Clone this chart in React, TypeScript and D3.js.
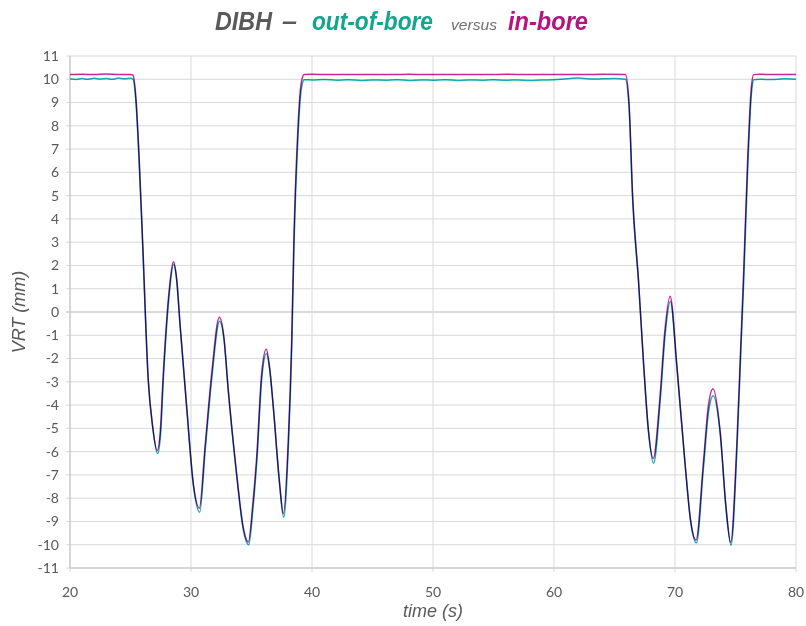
import React from 'react';
import * as d3 from 'd3';

// in-bore trace (magenta), [time s, VRT mm]
const inBore: [number, number][] = [
  [20, 10.2], [21, 10.22], [22, 10.2], [23, 10.23], [24, 10.2], [25, 10.21], [25.2, 10.18],
  [25.45, 9.2], [25.7, 6.8], [26.0, 3.1], [26.47, -2.9], [26.83, -4.93], [27.2, -5.95],
  [27.45, -5.2], [27.71, -2.64], [28.2, 0.95], [28.54, 2.16], [28.8, 1.5], [29.09, -0.49],
  [29.64, -4.07], [30.19, -7.37], [30.69, -8.43], [31.16, -5.79], [31.71, -2.64], [32.34, -0.23],
  [32.7, -1.0], [33.08, -3.35], [33.77, -6.94], [34.3, -9.2], [34.74, -9.88], [35.1, -8.3],
  [35.43, -6.22], [35.84, -2.64], [36.22, -1.6], [36.5, -2.4], [36.8, -4.07], [37.3, -7.23],
  [37.63, -8.66], [38.04, -5.5], [38.32, -1.2], [38.5, 3.1], [38.8, 7.5], [39.1, 9.8], [39.35, 10.2],
  [40, 10.22], [42, 10.2], [44, 10.21], [46, 10.2], [48, 10.22], [50, 10.2], [52, 10.21],
  [54, 10.2], [56, 10.22], [58, 10.2], [60, 10.21], [62, 10.2], [64, 10.22], [65.9, 10.2],
  [66.2, 9.0], [66.5, 5.0], [66.98, 1.38], [67.4, -2.2], [67.8, -5.07], [68.2, -6.3],
  [68.76, -3.64], [69.17, -0.77], [69.6, 0.68], [70.14, -2.2], [70.83, -6.51], [71.3, -9.0],
  [71.74, -9.8], [72.34, -6.51], [72.75, -4.07], [73.14, -3.3], [73.72, -5.07], [74.21, -8.37],
  [74.6, -9.9], [75.1, -5.79], [75.43, -1.49], [75.65, 1.38], [76.0, 6.5], [76.3, 9.6], [76.5, 10.2],
  [77, 10.22], [78, 10.2], [79, 10.21], [80, 10.2],
];

// out-of-bore trace (teal)
const outOfBore: [number, number][] = [
  [20, 10.02], [20.5, 9.99], [21, 10.03], [21.5, 10.0], [22, 10.04], [22.5, 10.01], [23, 10.03],
  [23.5, 10.0], [24, 10.05], [24.5, 10.02], [25, 10.04], [25.2, 10.0],
  [25.45, 9.0], [25.7, 6.6], [26.0, 2.9], [26.47, -3.0], [26.85, -5.0], [27.23, -6.08],
  [27.48, -5.3], [27.73, -2.75], [28.22, 0.85], [28.56, 2.05], [28.82, 1.35], [29.1, -0.6],
  [29.66, -4.2], [30.21, -7.5], [30.72, -8.6], [31.18, -5.9], [31.73, -2.8], [32.36, -0.4],
  [32.72, -1.15], [33.1, -3.5], [33.79, -7.1], [34.32, -9.35], [34.77, -10.0], [35.12, -8.45],
  [35.45, -6.35], [35.86, -2.8], [36.24, -1.78], [36.52, -2.55], [36.82, -4.2], [37.32, -7.4],
  [37.66, -8.82], [38.06, -5.6], [38.34, -1.3], [38.52, 3.0], [38.82, 7.3], [39.12, 9.6], [39.37, 9.98],
  [40, 9.97], [41, 9.99], [42, 9.96], [43, 9.98], [44, 9.95], [45, 9.97], [46, 9.96], [47, 9.98],
  [48, 9.95], [49, 9.97], [50, 9.96], [51, 9.98], [52, 9.95], [53, 9.97], [54, 9.96], [55, 9.98],
  [56, 9.96], [57, 9.97], [58, 9.95], [59, 9.97], [60, 9.98], [61, 10.02], [62, 10.05], [63, 10.01],
  [64, 10.02], [65, 10.03], [65.9, 10.0],
  [66.2, 8.8], [66.5, 4.8], [67.0, 1.2], [67.42, -2.35], [67.82, -5.2], [68.23, -6.5],
  [68.78, -3.8], [69.19, -0.95], [69.62, 0.45], [70.16, -2.4], [70.85, -6.65], [71.32, -9.1],
  [71.77, -9.92], [72.36, -6.65], [72.77, -4.3], [73.16, -3.6], [73.74, -5.25], [74.23, -8.5],
  [74.63, -10.02], [75.12, -5.9], [75.45, -1.6], [75.67, 1.2], [76.02, 6.3], [76.32, 9.4], [76.52, 9.98],
  [77, 10.0], [78, 9.99], [79, 10.02], [80, 10.0],
];

const xTicks = [20, 30, 40, 50, 60, 70, 80];
const yTicks = d3.range(-11, 12);

const W = 806;
const H = 626;
const m = { left: 70, right: 10, top: 56, bottom: 58 };

export default function App() {
  const x = d3.scaleLinear().domain([20, 80]).range([m.left, W - m.right]);
  const y = d3.scaleLinear().domain([-11, 11]).range([H - m.bottom, m.top]);
  const line = d3.line<[number, number]>()
    .x(d => x(d[0]))
    .y(d => y(d[1]))
    .curve(d3.curveMonotoneX);

  const narrow = "'Liberation Sans Narrow', 'Liberation Sans', Arial, sans-serif";
  const tickFont = "Lato, 'Open Sans', sans-serif";

  // title pieces, squeezed to the condensed look of the original
  const titleParts = [
    { text: 'DIBH', x: 215, len: 57, fill: '#595959', bold: true, size: 25 },
    { text: '–', x: 282, len: 15, fill: '#595959', bold: true, size: 25 },
    { text: 'out-of-bore', x: 312, len: 121, fill: '#13a58e', bold: true, size: 25 },
    { text: 'versus', x: 451, len: 46, fill: '#6f6f6f', bold: false, size: 15 },
    { text: 'in-bore', x: 508, len: 80, fill: '#b5137f', bold: true, size: 25 },
  ];

  return (
    <svg width={W} height={H} style={{ position: 'absolute', left: 0, top: 0, background: '#fff' }}>
      {/* grid */}
      {yTicks.map(t => (
        <line key={'gy' + t} x1={m.left - 4} x2={W - m.right} y1={y(t)} y2={y(t)}
          stroke={t === 0 ? '#b5b5b5' : '#d9d9d9'} strokeWidth={1} />
      ))}
      {xTicks.map(t => (
        <line key={'gx' + t} x1={x(t)} x2={x(t)} y1={m.top} y2={H - m.bottom + 4}
          stroke="#d9d9d9" strokeWidth={1} />
      ))}
      <line x1={m.left} x2={m.left} y1={m.top} y2={H - m.bottom} stroke="#bfbfbf" />
      <line x1={m.left} x2={W - m.right} y1={H - m.bottom} y2={H - m.bottom} stroke="#bfbfbf" />

      {/* tick labels */}
      {yTicks.map(t => (
        <text key={'ly' + t} x={m.left - 11} y={y(t)} dy="0.35em" textAnchor="end"
          fontFamily={tickFont} fontSize={14} fill="#595959">{t}</text>
      ))}
      {xTicks.map(t => (
        <text key={'lx' + t} x={x(t)} y={H - m.bottom + 24} dy="0.35em" textAnchor="middle"
          fontFamily={tickFont} fontSize={14} fill="#595959">{t}</text>
      ))}

      {/* series */}
      <path d={line(outOfBore) || ''} fill="none" stroke="#16aeb0" strokeWidth={1.5}
        style={{ mixBlendMode: 'multiply' }} />
      <path d={line(inBore) || ''} fill="none" stroke="#c8288e" strokeWidth={1.5}
        style={{ mixBlendMode: 'multiply' }} />

      {/* axis titles */}
      <text x={433} y={617} textAnchor="middle" fontFamily={narrow} fontStyle="italic"
        fontSize={19} fill="#595959" textLength={60} lengthAdjust="spacingAndGlyphs">time (s)</text>
      <text transform={`translate(25,${y(0)}) rotate(-90)`} textAnchor="middle" fontFamily={narrow}
        fontStyle="italic" fontSize={18} fill="#595959">VRT (mm)</text>

      {/* title */}
      {titleParts.map(p => (
        <text key={p.text} x={p.x} y={30} fontFamily={narrow} fontStyle="italic"
          fontWeight={p.bold ? 'bold' : 'normal'} fontSize={p.size} fill={p.fill}
          textLength={p.len} lengthAdjust="spacingAndGlyphs">{p.text}</text>
      ))}
    </svg>
  );
}
